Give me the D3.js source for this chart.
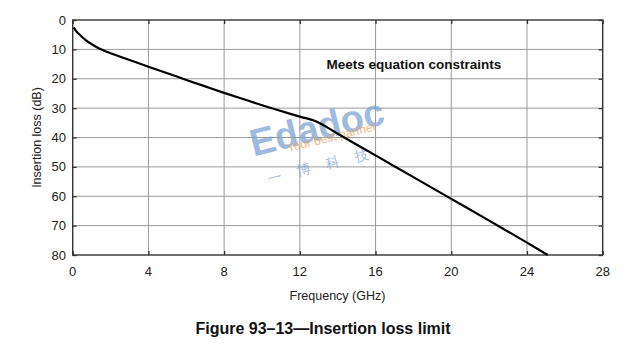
<!DOCTYPE html>
<html>
<head>
<meta charset="utf-8">
<script src="https://cdn.jsdelivr.net/npm/d3@7"></script>
<style>
  body { margin: 0; background: #fff; }
  text { font-family: "Liberation Sans", Arial, sans-serif; }
</style>
</head>
<body>
<svg width="630" height="350"></svg>
<script>
// Values
var freqGHz = [0.05, 0.2, 0.4, 0.7, 1.0, 1.4, 2, 3, 4, 5, 6, 7, 8, 9, 10, 11, 12, 12.9, 14, 16, 18, 20, 22, 24, 25.1];
var lossDB  = [2.5, 3.9, 5.2, 6.9, 8.2, 9.7, 11.3, 13.6, 15.9, 18.1, 20.4, 22.6, 24.8, 26.9, 29.0, 31.0, 32.9, 34.6, 38.7, 46.1, 53.5, 60.9, 68.3, 75.8, 80];
var xTicks = [0, 4, 8, 12, 16, 20, 24, 28];
var yTicks = [0, 10, 20, 30, 40, 50, 60, 70, 80];

var svg = d3.select("svg");
// plot box (note: "top" is a reserved window prop, so use pTop etc)
var pLeft = 72.7, pRight = 602.7, pTop = 20, pBottom = 255;

var x = d3.scaleLinear().domain([0, 28]).range([pLeft, pRight]);
var y = d3.scaleLinear().domain([0, 80]).range([pTop, pBottom]);

// grid
svg.append("g").selectAll("line")
  .data(xTicks.slice(1, -1))
  .enter().append("line")
  .attr("x1", function(d) { return x(d); })
  .attr("x2", function(d) { return x(d); })
  .attr("y1", pTop).attr("y2", pBottom)
  .attr("stroke", "#9a9a9a").attr("stroke-width", 1);

svg.append("g").selectAll("line")
  .data(yTicks.slice(1, -1))
  .enter().append("line")
  .attr("y1", function(d) { return y(d); })
  .attr("y2", function(d) { return y(d); })
  .attr("x1", pLeft).attr("x2", pRight)
  .attr("stroke", "#9a9a9a").attr("stroke-width", 1);

// inner ticks on all four sides
var tk = 4;
svg.append("g").attr("transform", "translate(0," + pBottom + ")")
  .call(d3.axisBottom(x).tickValues(xTicks).tickSize(-tk).tickFormat(""));
svg.append("g").attr("transform", "translate(0," + pTop + ")")
  .call(d3.axisTop(x).tickValues(xTicks).tickSize(-tk).tickFormat(""));
svg.append("g").attr("transform", "translate(" + pLeft + ",0)")
  .call(d3.axisLeft(y).tickValues(yTicks).tickSize(-tk).tickFormat(""));
svg.append("g").attr("transform", "translate(" + pRight + ",0)")
  .call(d3.axisRight(y).tickValues(yTicks).tickSize(-tk).tickFormat(""));
svg.selectAll(".domain").remove();
svg.selectAll(".tick line").attr("stroke", "#333").attr("stroke-width", 1.3);

// frame
svg.append("rect")
  .attr("x", pLeft).attr("y", pTop)
  .attr("width", pRight - pLeft).attr("height", pBottom - pTop)
  .attr("fill", "none").attr("stroke", "#333").attr("stroke-width", 1.4);

// tick labels
svg.append("g").selectAll("text")
  .data(xTicks)
  .enter().append("text")
  .attr("x", function(d) { return x(d); })
  .attr("y", 276)
  .attr("text-anchor", "middle")
  .attr("font-size", 13)
  .attr("fill", "#222")
  .text(function(d) { return d; });

svg.append("g").selectAll("text")
  .data(yTicks)
  .enter().append("text")
  .attr("x", 66)
  .attr("y", function(d) { return y(d) + 4.5; })
  .attr("text-anchor", "end")
  .attr("font-size", 13)
  .attr("fill", "#222")
  .text(function(d) { return d; });

// axis titles
svg.append("text")
  .attr("x", 337.5).attr("y", 299.5)
  .attr("text-anchor", "middle")
  .attr("font-size", 12.5)
  .attr("fill", "#222")
  .text("Frequency (GHz)");

svg.append("text")
  .attr("transform", "translate(41," + ((pTop + pBottom) / 2) + ") rotate(-90)")
  .attr("text-anchor", "middle")
  .attr("font-size", 12.5)
  .attr("fill", "#222")
  .text("Insertion loss (dB)");

// watermark
var wm = svg.append("g").attr("transform", "translate(320,140) rotate(-14)");
wm.append("text")
  .attr("x", 0).attr("y", 0)
  .attr("text-anchor", "middle")
  .attr("font-family", "DejaVu Sans")
  .attr("font-weight", "bold")
  .attr("font-size", 38)
  .attr("fill", "#7ea4d4").attr("fill-opacity", 0.75)
  .text("Edadoc");
wm.append("text")
  .attr("x", 12).attr("y", 4)
  .attr("text-anchor", "middle")
  .attr("font-size", 12)
  .attr("fill", "#f2a35a").attr("fill-opacity", 0.8)
  .text("Your best partner");
wm.append("text")
  .attr("x", 0).attr("y", 30)
  .attr("text-anchor", "middle")
  .attr("font-family", "Noto Sans CJK SC")
  .attr("font-size", 14)
  .attr("fill", "#7ea4d4").attr("fill-opacity", 0.75)
  .attr("letter-spacing", 16)
  .text("一博科技");

// curve
var pts = freqGHz.map(function(f, i) { return [f, lossDB[i]]; });
var line = d3.line()
  .x(function(d) { return x(d[0]); })
  .y(function(d) { return y(d[1]); })
  .curve(d3.curveCatmullRom.alpha(0.5));

svg.append("path")
  .datum(pts)
  .attr("d", line)
  .attr("fill", "none")
  .attr("stroke", "#000")
  .attr("stroke-width", 2.2);

// annotation
svg.append("text")
  .attr("x", 326.5).attr("y", 69)
  .attr("font-size", 13.5)
  .attr("font-weight", "bold")
  .attr("fill", "#111")
  .text("Meets equation constraints");

// caption
svg.append("text")
  .attr("x", 323).attr("y", 334)
  .attr("text-anchor", "middle")
  .attr("font-size", 16)
  .attr("font-weight", "bold")
  .attr("fill", "#111")
  .text("Figure 93\u201313\u2014Insertion loss limit");
</script>
</body>
</html>
